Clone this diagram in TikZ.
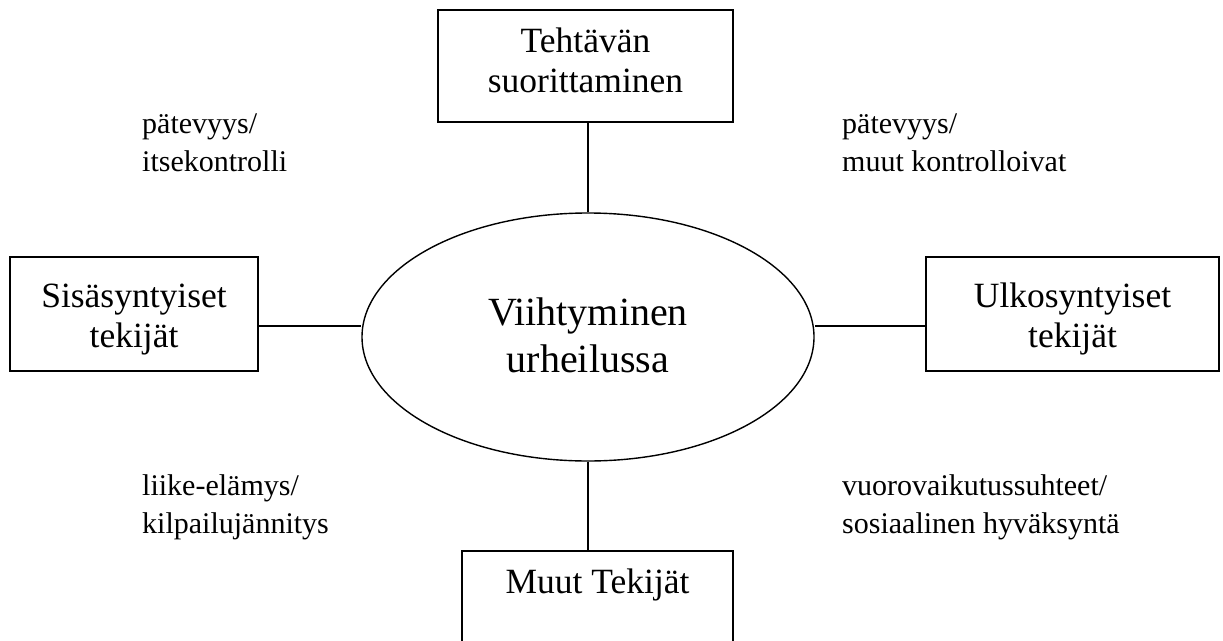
\documentclass[tikz,border=0pt]{standalone}
\usepackage{fontspec}
\setmainfont{Liberation Serif}
\usetikzlibrary{shapes.geometric}
\begin{document}
\begin{tikzpicture}[x=1pt,y=-1pt,
  box/.style={draw,line width=1.4pt,rectangle,inner sep=0pt,align=center,font=\fontsize{35.5}{40}\selectfont},
  oval/.style={draw,line width=1.4pt,ellipse,inner sep=0pt,minimum width=452pt,minimum height=248pt,align=center,font=\fontsize{40}{47}\selectfont},
  lbl/.style={anchor=base west,inner sep=0pt,align=left,font=\fontsize{30}{38}\selectfont},
  conn/.style={line width=1.4pt}]
\useasboundingbox (0,0) rectangle (1223,640);
\node[oval,text height=90pt,text depth=20pt,anchor=base] (el) at (588,372) {Viihtyminen\\urheilussa};
\node[box,minimum width=295pt,text height=82pt,text depth=30pt,anchor=base] (tb) at (585.5,92) {Tehtävän\\suorittaminen};
\node[box,minimum width=248pt,text height=90pt,text depth=24pt,anchor=base] (lb) at (134,347) {Sisäsyntyiset\\tekijät};
\node[box,minimum width=293pt,text height=90pt,text depth=24pt,anchor=base] (rb) at (1072.5,347) {Ulkosyntyiset\\tekijät};
\node[box,anchor=base,minimum width=271pt,text height=42pt,text depth=90pt] (bb) at (597.5,593) {Muut Tekijät};
\node[lbl] (l1) at (142,171) {pätevyys/\\itsekontrolli};
\node[lbl] (l2) at (842,171) {pätevyys/\\muut kontrolloivat};
\node[lbl] (l3) at (142,533) {liike-elämys/\\kilpailujännitys};
\node[lbl] (l4) at (842,533) {vuorovaikutussuhteet/\\sosiaalinen hyväksyntä};
\draw[conn] (el.north) -- (el.north |- tb.south);
\draw[conn] (el.south) -- (el.south |- bb.north);
\draw[conn] ([yshift=-12pt]lb.east) -- ([yshift=-12pt]lb.east -| el.west);
\draw[conn] ([yshift=-12pt]rb.west) -- ([yshift=-12pt]rb.west -| el.east);
\end{tikzpicture}
\end{document}
